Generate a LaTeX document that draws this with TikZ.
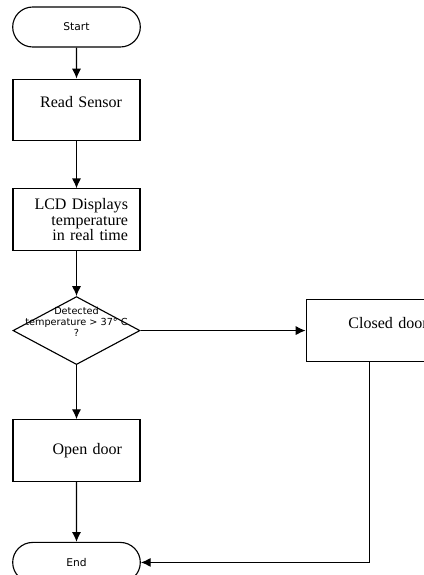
\documentclass[tikz,border=0pt]{standalone}
\usepackage{fontspec}
\setmainfont{Liberation Serif}
\newfontfamily\flowsans{DejaVu Sans}
\usepackage{tikz}
\usetikzlibrary{arrows.meta}
\usetikzlibrary{shapes.geometric}
\usetikzlibrary{shapes.misc}
\usetikzlibrary{positioning}
\tikzstyle{terminal}=[
   rounded rectangle,
   draw=black,
   minimum width=3.425cm,
   minimum height=1cm,
   font=\flowsans\fontsize{7.6}{9}\selectfont
]
\tikzstyle{process}=[
   rectangle,
   draw=black,
   minimum width=3.175cm,
   minimum height=1.54cm,
   text width=2.275cm,
   align=right,
   font=\fontsize{11.4}{10.8}\selectfont
]
\tikzstyle{decision}=[
   diamond,
   draw=black,
   minimum width=3.175cm,
   minimum height=1.7cm,
   inner sep=0pt
]
\newcommand{\tempcheck}{Detected\\temperature > 37° C\\?}

\begin{document}
\begin{tikzpicture}[
         >={Latex[length=7pt,width=6.5pt]},
         line width=0.8pt,
         node distance=1.15cm
      ]
      \useasboundingbox (0,0) rectangle (10.6,-14.375);

      \node (0) [terminal] at (1.9125,-0.675) {Start};
      \node (1) [process, below=0.775cm of 0, text depth=0.38cm] {Read Sensor};
      \node (2) [process, below=1.175cm of 1, text width=2.575cm] {
         LCD Displays
         \\temperature
         \\in real time
      };
      \node (3) [decision, below=1.125cm of 2,
         label={[font=\flowsans\fontsize{6.9}{7.6}\selectfont, align=center, yshift=0.22cm]center:\tempcheck}] {};
      \node (4) [process, below=1.35cm of 3] {Open door};
      \node (5) [process, right=4.125cm of 3, text width=2.9cm, text depth=0.38cm] {Closed door};
      \node (6) [terminal, below=1.5cm of 4] {End};

      \path[->]
      (0) edge (1)
      (1) edge (2)
      (2) edge (3)
      (3) edge (4)
          edge (5)
      (4) edge (6)
      ;
      \draw[->] (5) |- (6);

   \end{tikzpicture}
\end{document}
